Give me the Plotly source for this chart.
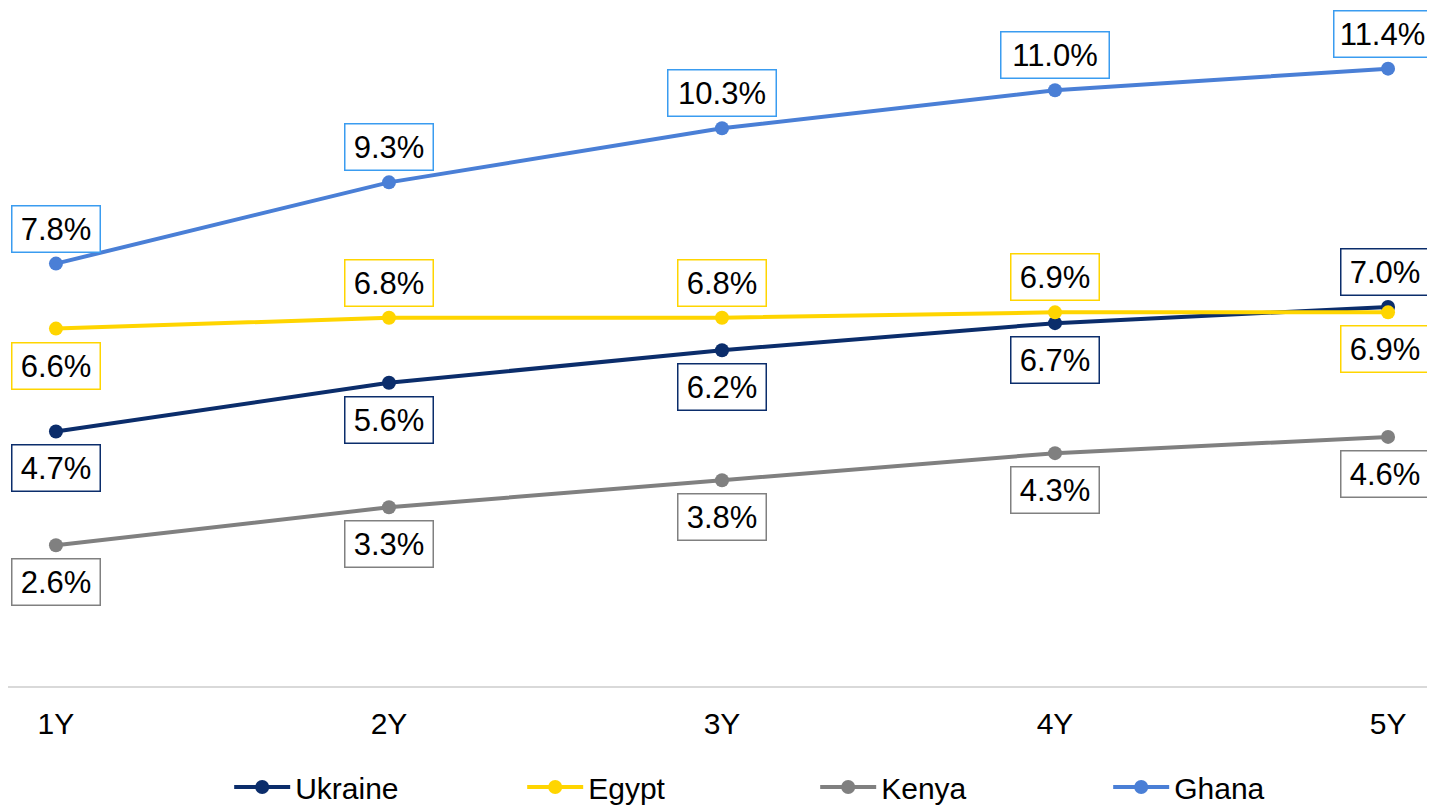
import plotly.graph_objects as go

tenors = ["1Y", "2Y", "3Y", "4Y", "5Y"]
ukraine = [4.7, 5.6, 6.2, 6.7, 7.0]
egypt = [6.6, 6.8, 6.8, 6.9, 6.9]
kenya = [2.6, 3.3, 3.8, 4.3, 4.6]
ghana = [7.8, 9.3, 10.3, 11.0, 11.4]

# label placement per point: +1 above, -1 below
ukraine_pos = [-1, -1, -1, -1, 1]
egypt_pos = [-1, 1, 1, 1, -1]
kenya_pos = [-1, -1, -1, -1, -1]
ghana_pos = [1, 1, 1, 1, 1]

series = [
    ("Ukraine", ukraine, ukraine_pos, "#0B2D6B", "#0B2D6B"),
    ("Egypt", egypt, egypt_pos, "#FFD500", "#FFD500"),
    ("Kenya", kenya, kenya_pos, "#808080", "#808080"),
    ("Ghana", ghana, ghana_pos, "#4A7FD6", "#3A9CF0"),
]

FONT = "Liberation Sans, Arial, sans-serif"

fig = go.Figure()
annotations = []
for name, vals, pos, color, box in series:
    fig.add_trace(go.Scatter(
        x=tenors, y=vals, name=name, mode="lines+markers",
        line=dict(color=color, width=4),
        marker=dict(color=color, size=14),
    ))
    for i, (t, v, p) in enumerate(zip(tenors, vals, pos)):
        txt = f"{v:.1f}%"
        wide = len(txt) > 4
        last = i == len(tenors) - 1
        shift = 0
        if last:
            shift = -6 if wide else -3
        annotations.append(dict(
            x=t, y=v, xref="x", yref="y", text=txt, showarrow=False,
            yshift=35 if p > 0 else -37, xshift=shift,
            font=dict(family=FONT, size=31, color="black"),
            bgcolor="white", bordercolor=box, borderwidth=1.5, borderpad=4,
            width=(88 if last else 99) if wide else 79, height=37,
        ))

# the page body adds an 8px offset, so the plot area is laid out to compensate
fig.update_layout(
    width=1435, height=805,
    paper_bgcolor="white", plot_bgcolor="white",
    margin=dict(l=0, r=8, t=0, b=127, autoexpand=False),
    font=dict(family=FONT, size=30, color="black"),
    annotations=annotations,
    showlegend=True,
    legend=dict(
        orientation="h", x=0.155, xanchor="left", y=-0.149, yanchor="middle",
        font=dict(family=FONT, size=30, color="black"),
        itemwidth=56, entrywidth=222, entrywidthmode="pixels",
    ),
    xaxis=dict(
        type="category", range=[-0.144, 4.141], automargin=False,
        showgrid=False, zeroline=False, showline=True,
        linecolor="#D9D9D9", linewidth=2, ticks="", ticklabelstandoff=10,
        tickfont=dict(family=FONT, size=30, color="black"),
    ),
    yaxis=dict(
        range=[0, 12.52], visible=False, showgrid=False, zeroline=False,
        automargin=False,
    ),
)

fig.write_html("out.html")
